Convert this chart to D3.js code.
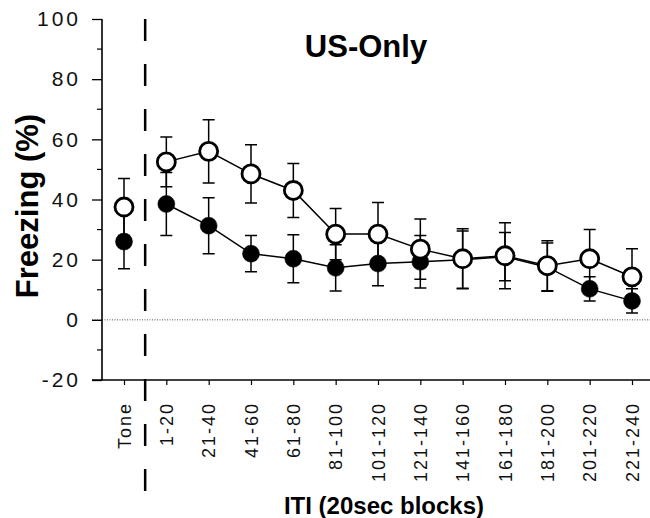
<!DOCTYPE html>
<html>
<head>
<meta charset="utf-8">
<script src="https://cdn.jsdelivr.net/npm/d3@7"></script>
<style>
  body { margin: 0; background: #fff; }
  text { font-family: "Liberation Sans", Arial, sans-serif; }
</style>
</head>
<body>
<script>
// categories on the x axis
var blocks = ["Tone", "1-20", "21-40", "41-60", "61-80", "81-100", "101-120",
  "121-140", "141-160", "161-180", "181-200", "201-220", "221-240"];

// open circles
var openMean = [37.5, 52.5, 56, 48.5, 43, 28.5, 28.5, 23.5, 20.3, 21.3, 18, 20.3, 14.3];
var openErr  = [9.5, 8.3, 10.5, 9.7, 9, 8.5, 10.5, 10, 10, 11, 8.3, 9.7, 9.3];

// filled circles
var fillMean = [26, 38.5, 31.3, 22, 20.3, 17.3, 18.7, 19.3, 20, 21, 17.5, 10.3, 6.3];
var fillErr  = [9, 10.5, 9.3, 6, 8, 7.7, 7.4, 8.7, 9.5, 8, 8, 4, 4];

var yTicks = [-20, 0, 20, 40, 60, 80, 100];
var yMinor = [-10, 10, 30, 50, 70, 90];

var width = 650, height = 518;

var svg = d3.select("body").append("svg")
    .attr("width", width)
    .attr("height", height);

var x = d3.scalePoint().domain(blocks).range([124, 632]);
var y = d3.scaleLinear().domain([-20, 100]).range([380, 19]);

// zero reference line
svg.append("line")
    .attr("x1", 92).attr("x2", 650)
    .attr("y1", y(0)).attr("y2", y(0))
    .attr("stroke", "#555")
    .attr("stroke-width", 1)
    .attr("stroke-dasharray", "1,1.5");

// y axis
var yAxis = svg.append("g")
    .attr("transform", "translate(102,0)")
    .call(d3.axisLeft(y).tickValues(yTicks).tickSize(10).tickPadding(11).tickFormat(d => String(d)));
yAxis.select(".domain").remove();
yAxis.selectAll(".tick line").attr("stroke", "#000").attr("stroke-width", 1.3);
yAxis.selectAll(".tick text")
    .style("font-size", "21px")
    .style("letter-spacing", "3px")
    .attr("fill", "#111");

svg.append("g").selectAll("line")
    .data(yMinor)
    .enter().append("line")
    .attr("x1", 97).attr("x2", 102)
    .attr("y1", d => y(d)).attr("y2", d => y(d))
    .attr("stroke", "#000").attr("stroke-width", 1.2);

svg.append("line")
    .attr("x1", 102).attr("x2", 102)
    .attr("y1", y(100)).attr("y2", y(-20))
    .attr("stroke", "#000").attr("stroke-width", 1.6);

// x axis
var xAxis = svg.append("g")
    .attr("transform", "translate(0," + y(-20) + ")")
    .call(d3.axisBottom(x).tickSize(5).tickSizeOuter(0));
xAxis.select(".domain").remove();
xAxis.selectAll(".tick line").attr("stroke", "#000").attr("stroke-width", 1.2);
xAxis.selectAll(".tick text")
    .attr("transform", "rotate(-90)")
    .attr("x", -22)
    .attr("y", 0)
    .attr("dy", "0.35em")
    .attr("text-anchor", "end")
    .style("font-size", "18px")
    .style("letter-spacing", "2px")
    .attr("fill", "#111");

svg.append("line")
    .attr("x1", 92).attr("x2", 650)
    .attr("y1", y(-20)).attr("y2", y(-20))
    .attr("stroke", "#000").attr("stroke-width", 1.6);

// dashed divider between Tone and ITI blocks
var divX = (x("Tone") + x("1-20")) / 2;
svg.append("line")
    .attr("x1", divX).attr("x2", divX)
    .attr("y1", 19).attr("y2", 492)
    .attr("stroke", "#000")
    .attr("stroke-width", 2.5)
    .attr("stroke-dasharray", "22,23");

// draws one series
function drawSeries(means, errs, filled) {
    var g = svg.append("g");
    var pts = blocks.map((b, i) => ({ b: b, m: means[i], e: errs[i] }));

    g.selectAll(".bar")
        .data(pts)
        .enter().append("path")
        .attr("d", d => {
            var cx = x(d.b), t = y(d.m + d.e), btm = y(d.m - d.e);
            return "M" + cx + "," + t + "V" + btm +
                "M" + (cx - 6) + "," + t + "H" + (cx + 6) +
                "M" + (cx - 6) + "," + btm + "H" + (cx + 6);
        })
        .attr("stroke", "#000")
        .attr("stroke-width", 1.5)
        .attr("fill", "none");

    var line = d3.line().x(d => x(d.b)).y(d => y(d.m));
    g.append("path")
        .datum(pts.slice(1))
        .attr("d", line)
        .attr("fill", "none")
        .attr("stroke", "#000")
        .attr("stroke-width", 1.5);

    g.selectAll("circle")
        .data(pts)
        .enter().append("circle")
        .attr("cx", d => x(d.b))
        .attr("cy", d => y(d.m))
        .attr("r", filled ? 8.5 : 9)
        .attr("fill", filled ? "#000" : "#fff")
        .attr("stroke", "#000")
        .attr("stroke-width", filled ? 0.5 : 2.8);
}

drawSeries(fillMean, fillErr, true);
drawSeries(openMean, openErr, false);

// titles
svg.append("text")
    .attr("x", 366).attr("y", 57)
    .attr("text-anchor", "middle")
    .style("font-size", "31px")
    .style("font-weight", "bold")
    .text("US-Only");

svg.append("text")
    .attr("transform", "translate(38,206) rotate(-90)")
    .attr("text-anchor", "middle")
    .style("font-size", "31px")
    .style("font-weight", "bold")
    .text("Freezing (%)");

svg.append("text")
    .attr("x", 384).attr("y", 514)
    .attr("text-anchor", "middle")
    .style("font-size", "24px")
    .style("font-weight", "bold")
    .text("ITI (20sec blocks)");
</script>
</body>
</html>
